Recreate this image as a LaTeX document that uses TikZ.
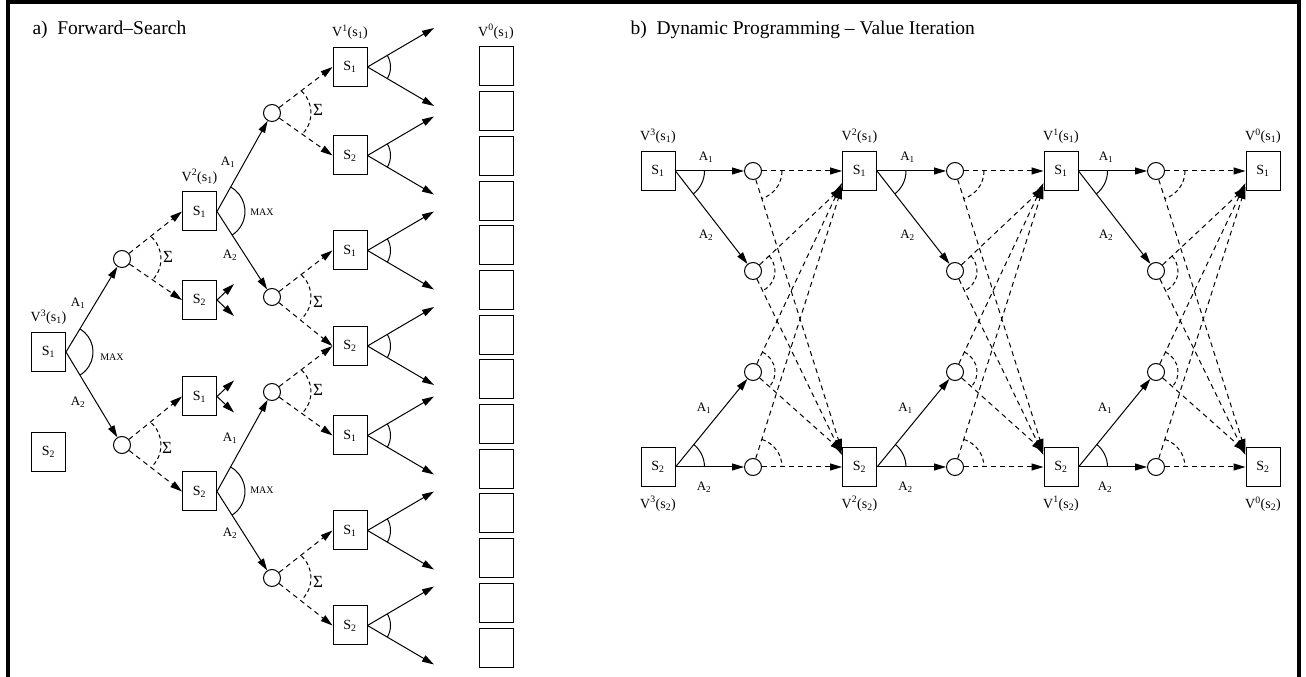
\documentclass[tikz,border=0pt]{standalone}
\usepackage{fontspec}
\setmainfont{Liberation Serif}
\usepackage{tikz}
\usetikzlibrary{positioning,arrows.meta}

\begin{document}
\begin{tikzpicture}[
  x=1pt,y=1pt,
  >={Triangle[length=12pt,width=7pt]},
  line width=1pt,
  every node/.style={inner sep=0pt},
  state/.style={draw,rectangle,minimum width=34pt,minimum height=39pt,font=\fontsize{14}{14}\selectfont},
  leaf/.style={draw,rectangle,minimum width=34pt,minimum height=39pt},
  chance/.style={draw,circle,minimum size=17pt},
  act/.style={->},
  obs/.style={->,dash pattern=on 5pt off 4pt},
  darc/.style={dash pattern=on 4pt off 3pt},
  labl/.style={font=\fontsize{13}{13}\selectfont},
  vlab/.style={font=\fontsize{14}{14}\selectfont},
  maxl/.style={font=\fontsize{10}{10}\selectfont},
  suml/.style={font=\fontsize{17}{17}\selectfont},
  title/.style={anchor=base west,font=\fontsize{19.5}{20}\selectfont}
]
\useasboundingbox (0,0) rectangle (1306,677);

% Frame
\draw[line width=4pt] (7.5,0) -- (7.5,674.5) -- (1298.7,674.5) -- (1298.7,0);

% Titles
\node[title] (ta) at (32,642) {a)\ \ Forward--Search};
\node[title] (tb) at (630,642) {b)\ \ Dynamic Programming -- Value Iteration};

%%%%% a) Forward search

% Root
\node[state] (T1) at (48.5,325) {S\textsubscript{1}};
\node[state] (T2) at (48.5,225) {S\textsubscript{2}};
\node[vlab,above=7pt of T1] (vT1) {V\textsuperscript{3}(s\textsubscript{1})};

% Chance nodes, depth one
\node[chance] (P1) at (122,418) {};
\node[chance] (P2) at (122,232) {};

% States, depth one
\node[state] (Q1) at (199.5,465.5) {S\textsubscript{1}};
\node[state] (Q2) at (199.5,377)   {S\textsubscript{2}};
\node[state] (Q3) at (199.5,280.5) {S\textsubscript{1}};
\node[state] (Q4) at (199.5,185.5) {S\textsubscript{2}};
\node[vlab,above=7pt of Q1] (vQ1) {V\textsuperscript{2}(s\textsubscript{1})};

% Chance nodes, depth two
\node[chance] (O1) at (272,564) {};
\node[chance] (O2) at (272,380) {};
\node[chance] (O3) at (272,285) {};
\node[chance] (O4) at (272,99)  {};

% States, depth two
\node[state] (R1) at (350,610)   {S\textsubscript{1}};
\node[state] (R2) at (350,521.5) {S\textsubscript{2}};
\node[state] (R3) at (350,426.5) {S\textsubscript{1}};
\node[state] (R4) at (350,331)   {S\textsubscript{2}};
\node[state] (R5) at (350,241.5) {S\textsubscript{1}};
\node[state] (R6) at (350,146.5) {S\textsubscript{1}};
\node[state] (R7) at (350,51.5)  {S\textsubscript{2}};
\node[vlab,above=7pt of R1] (vR1) {V\textsuperscript{1}(s\textsubscript{1})};

% Leaves
\node[leaf] (Z1)  at (496,610.5) {};
\node[leaf] (Z2)  at (496,565.8) {};
\node[leaf] (Z3)  at (496,521.1) {};
\node[leaf] (Z4)  at (496,476.4) {};
\node[leaf] (Z5)  at (496,431.7) {};
\node[leaf] (Z6)  at (496,387.0) {};
\node[leaf] (Z7)  at (496,342.3) {};
\node[leaf] (Z8)  at (496,297.6) {};
\node[leaf] (Z9)  at (496,252.9) {};
\node[leaf] (Z10) at (496,208.2) {};
\node[leaf] (Z11) at (496,163.5) {};
\node[leaf] (Z12) at (496,118.8) {};
\node[leaf] (Z13) at (496,74.1)  {};
\node[leaf] (Z14) at (496,29.4)  {};
\node[vlab,above=7pt of Z1] (vZ1) {V\textsuperscript{0}(s\textsubscript{1})};

% Loose arrow ends
\coordinate (Q2u) at (234,393);   \coordinate (Q2d) at (234,361);
\coordinate (Q3u) at (234,296.5); \coordinate (Q3d) at (234,264.5);
\coordinate (R1u) at (434,649);   \coordinate (R1d) at (434,571);
\coordinate (R2u) at (434,560.5); \coordinate (R2d) at (434,482.5);
\coordinate (R3u) at (434,465.5); \coordinate (R3d) at (434,387.5);
\coordinate (R4u) at (434,370);   \coordinate (R4d) at (434,292);
\coordinate (R5u) at (434,280.5); \coordinate (R5d) at (434,202.5);
\coordinate (R6u) at (434,185.5); \coordinate (R6d) at (434,107.5);
\coordinate (R7u) at (434,90.5);  \coordinate (R7d) at (434,12.5);

% Actions
\draw[act] (T1.east) -- (P1);
\draw[act] (T1.east) -- (P2);
\draw[act] (Q1.east) -- (O1);
\draw[act] (Q1.east) -- (O2);
\draw[act] (Q4.east) -- (O3);
\draw[act] (Q4.east) -- (O4);
\draw[act] (Q2.east) -- (Q2u);
\draw[act] (Q2.east) -- (Q2d);
\draw[act] (Q3.east) -- (Q3u);
\draw[act] (Q3.east) -- (Q3d);
\draw[act] (R1.east) -- (R1u); \draw[act] (R1.east) -- (R1d);
\draw[act] (R2.east) -- (R2u); \draw[act] (R2.east) -- (R2d);
\draw[act] (R3.east) -- (R3u); \draw[act] (R3.east) -- (R3d);
\draw[act] (R4.east) -- (R4u); \draw[act] (R4.east) -- (R4d);
\draw[act] (R5.east) -- (R5u); \draw[act] (R5.east) -- (R5d);
\draw[act] (R6.east) -- (R6u); \draw[act] (R6.east) -- (R6d);
\draw[act] (R7.east) -- (R7u); \draw[act] (R7.east) -- (R7d);

% Outcomes
\draw[obs] (P1) -- (Q1.west);
\draw[obs] (P1) -- (Q2.west);
\draw[obs] (P2) -- (Q3.west);
\draw[obs] (P2) -- (Q4.west);
\draw[obs] (O1) -- (R1.west);
\draw[obs] (O1) -- (R2.west);
\draw[obs] (O2) -- (R3.west);
\draw[obs] (O2) -- (R4.west);
\draw[obs] (O3) -- (R4.west);
\draw[obs] (O3) -- (R5.west);
\draw[obs] (O4) -- (R6.west);
\draw[obs] (O4) -- (R7.west);

% Max arcs
\draw (T1.east) ++(58.5:27) arc[start angle=58.5,end angle=-58.5,radius=27];
\draw (Q1.east) ++(60.8:28) arc[start angle=60.8,end angle=-57.2,radius=28];
\draw (Q4.east) ++(61:28) arc[start angle=61,end angle=-57.5,radius=28];
\draw (R1.east) ++(30:23) arc[start angle=30,end angle=-30,radius=23];
\draw (R2.east) ++(30:23) arc[start angle=30,end angle=-30,radius=23];
\draw (R3.east) ++(30:23) arc[start angle=30,end angle=-30,radius=23];
\draw (R4.east) ++(30:23) arc[start angle=30,end angle=-30,radius=23];
\draw (R5.east) ++(30:23) arc[start angle=30,end angle=-30,radius=23];
\draw (R6.east) ++(30:23) arc[start angle=30,end angle=-30,radius=23];
\draw (R7.east) ++(30:23) arc[start angle=30,end angle=-30,radius=23];

% Sum arcs
\draw[darc] (P1.east) ++(47:30) arc[start angle=47,end angle=-43,radius=30];
\draw[darc] (P2.east) ++(47:30) arc[start angle=47,end angle=-43,radius=30];
\draw[darc] (O1.east) ++(47:30) arc[start angle=47,end angle=-43,radius=30];
\draw[darc] (O2.east) ++(47:30) arc[start angle=47,end angle=-47,radius=30];
\draw[darc] (O3.east) ++(47:30) arc[start angle=47,end angle=-43,radius=30];
\draw[darc] (O4.east) ++(47:30) arc[start angle=47,end angle=-43,radius=30];

% Labels
\node[labl] (aT1) at (78,374)  {A\textsubscript{1}};
\node[labl] (bT1) at (78,275)  {A\textsubscript{2}};
\node[labl] (aQ1) at (228,515) {A\textsubscript{1}};
\node[labl] (bQ1) at (230,422) {A\textsubscript{2}};
\node[labl] (aQ4) at (230,239) {A\textsubscript{1}};
\node[labl] (bQ4) at (230,144) {A\textsubscript{2}};
\node[maxl] (mT1) at (112,320) {MAX};
\node[maxl] (mQ1) at (262,465) {MAX};
\node[maxl] (mQ4) at (262,187) {MAX};
\node[suml] (sP1) at (168,420) {Σ};
\node[suml] (sP2) at (167,229) {Σ};
\node[suml] (sO1) at (318,567) {Σ};
\node[suml] (sO2) at (318,375) {Σ};
\node[suml] (sO3) at (318,287) {Σ};
\node[suml] (sO4) at (318,95)  {Σ};

%%%%% b) Value iteration

% States
\node[state] (M3) at (658,506)   {S\textsubscript{1}};
\node[state] (N3) at (658,210)   {S\textsubscript{2}};
\node[state] (M2) at (859.5,506) {S\textsubscript{1}};
\node[state] (N2) at (859.5,210) {S\textsubscript{2}};
\node[state] (M1) at (1061,506)  {S\textsubscript{1}};
\node[state] (N1) at (1061,210)  {S\textsubscript{2}};
\node[state] (M0) at (1263,506)  {S\textsubscript{1}};
\node[state] (N0) at (1263,210)  {S\textsubscript{2}};

\node[vlab,above=7pt of M3] (vM3) {V\textsuperscript{3}(s\textsubscript{1})};
\node[vlab,above=7pt of M2] (vM2) {V\textsuperscript{2}(s\textsubscript{1})};
\node[vlab,above=7pt of M1] (vM1) {V\textsuperscript{1}(s\textsubscript{1})};
\node[vlab,above=7pt of M0] (vM0) {V\textsuperscript{0}(s\textsubscript{1})};
\node[vlab,below=9pt of N3] (vN3) {V\textsuperscript{3}(s\textsubscript{2})};
\node[vlab,below=9pt of N2] (vN2) {V\textsuperscript{2}(s\textsubscript{2})};
\node[vlab,below=9pt of N1] (vN1) {V\textsuperscript{1}(s\textsubscript{2})};
\node[vlab,below=9pt of N0] (vN0) {V\textsuperscript{0}(s\textsubscript{2})};

% Chance nodes
\node[chance] (C3a) at (753,506) {};
\node[chance] (C3b) at (753,406) {};
\node[chance] (C3c) at (753,305) {};
\node[chance] (C3d) at (753,210) {};
\node[chance] (C2a) at (955,506) {};
\node[chance] (C2b) at (955,406) {};
\node[chance] (C2c) at (955,305) {};
\node[chance] (C2d) at (955,210) {};
\node[chance] (C1a) at (1156,506) {};
\node[chance] (C1b) at (1156,406) {};
\node[chance] (C1c) at (1156,305) {};
\node[chance] (C1d) at (1156,210) {};

% Actions
\draw[act] (M3.east) -- (C3a);
\draw[act] (M3.east) -- (C3b);
\draw[act] (N3.east) -- (C3c);
\draw[act] (N3.east) -- (C3d);
\draw[act] (M2.east) -- (C2a);
\draw[act] (M2.east) -- (C2b);
\draw[act] (N2.east) -- (C2c);
\draw[act] (N2.east) -- (C2d);
\draw[act] (M1.east) -- (C1a);
\draw[act] (M1.east) -- (C1b);
\draw[act] (N1.east) -- (C1c);
\draw[act] (N1.east) -- (C1d);

% Outcomes
\draw[obs] (C3a) -- (M2); \draw[obs] (C3a) -- ([yshift=-4pt]N2.north west);
\draw[obs] (C3b) -- (M2); \draw[obs] (C3b) -- ([yshift=-8pt]N2.north west);
\draw[obs] (C3c) -- ([yshift=8pt]M2.south west); \draw[obs] (C3c) -- (N2);
\draw[obs] (C3d) -- ([yshift=4pt]M2.south west); \draw[obs] (C3d) -- (N2);
\draw[obs] (C2a) -- (M1); \draw[obs] (C2a) -- ([yshift=-4pt]N1.north west);
\draw[obs] (C2b) -- (M1); \draw[obs] (C2b) -- ([yshift=-8pt]N1.north west);
\draw[obs] (C2c) -- ([yshift=8pt]M1.south west); \draw[obs] (C2c) -- (N1);
\draw[obs] (C2d) -- ([yshift=4pt]M1.south west); \draw[obs] (C2d) -- (N1);
\draw[obs] (C1a) -- (M0); \draw[obs] (C1a) -- ([yshift=-4pt]N0.north west);
\draw[obs] (C1b) -- (M0); \draw[obs] (C1b) -- ([yshift=-8pt]N0.north west);
\draw[obs] (C1c) -- ([yshift=8pt]M0.south west); \draw[obs] (C1c) -- (N0);
\draw[obs] (C1d) -- ([yshift=4pt]M0.south west); \draw[obs] (C1d) -- (N0);

% Max arcs
\draw (M3.east) ++(0:29) arc[start angle=0,end angle=-52,radius=29];
\draw (M2.east) ++(0:29) arc[start angle=0,end angle=-52,radius=29];
\draw (M1.east) ++(0:29) arc[start angle=0,end angle=-52,radius=29];
\draw (N3.east) ++(0:29) arc[start angle=0,end angle=51,radius=29];
\draw (N2.east) ++(0:29) arc[start angle=0,end angle=51,radius=29];
\draw (N1.east) ++(0:29) arc[start angle=0,end angle=51,radius=29];

% Sum arcs
\draw[darc] (C3a) ++(0:29) arc[start angle=0,end angle=-72,radius=29];
\draw[darc] (C3b) ++(43:22) arc[start angle=43,end angle=-64,radius=22];
\draw[darc] (C3c) ++(64.7:22) arc[start angle=64.7,end angle=-42,radius=22];
\draw[darc] (C3d) ++(72:29) arc[start angle=72,end angle=0,radius=29];
\draw[darc] (C2a) ++(0:29) arc[start angle=0,end angle=-72,radius=29];
\draw[darc] (C2b) ++(43:22) arc[start angle=43,end angle=-64,radius=22];
\draw[darc] (C2c) ++(64.7:22) arc[start angle=64.7,end angle=-42,radius=22];
\draw[darc] (C2d) ++(72:29) arc[start angle=72,end angle=0,radius=29];
\draw[darc] (C1a) ++(0:29) arc[start angle=0,end angle=-72,radius=29];
\draw[darc] (C1b) ++(43:22) arc[start angle=43,end angle=-64,radius=22];
\draw[darc] (C1c) ++(64.7:22) arc[start angle=64.7,end angle=-42,radius=22];
\draw[darc] (C1d) ++(72:29) arc[start angle=72,end angle=0,radius=29];

% Action labels
\node[labl] (aM3) at (706,520)   {A\textsubscript{1}};
\node[labl] (bM3) at (706,442)   {A\textsubscript{2}};
\node[labl] (aN3) at (704,269)   {A\textsubscript{1}};
\node[labl] (bN3) at (704,190)   {A\textsubscript{2}};
\node[labl] (aM2) at (907.5,520) {A\textsubscript{1}};
\node[labl] (bM2) at (907.5,442) {A\textsubscript{2}};
\node[labl] (aN2) at (905.5,269) {A\textsubscript{1}};
\node[labl] (bN2) at (905.5,190) {A\textsubscript{2}};
\node[labl] (aM1) at (1106,520)  {A\textsubscript{1}};
\node[labl] (bM1) at (1106,442)  {A\textsubscript{2}};
\node[labl] (aN1) at (1105,269)  {A\textsubscript{1}};
\node[labl] (bN1) at (1105,190)  {A\textsubscript{2}};

\end{tikzpicture}
\end{document}
